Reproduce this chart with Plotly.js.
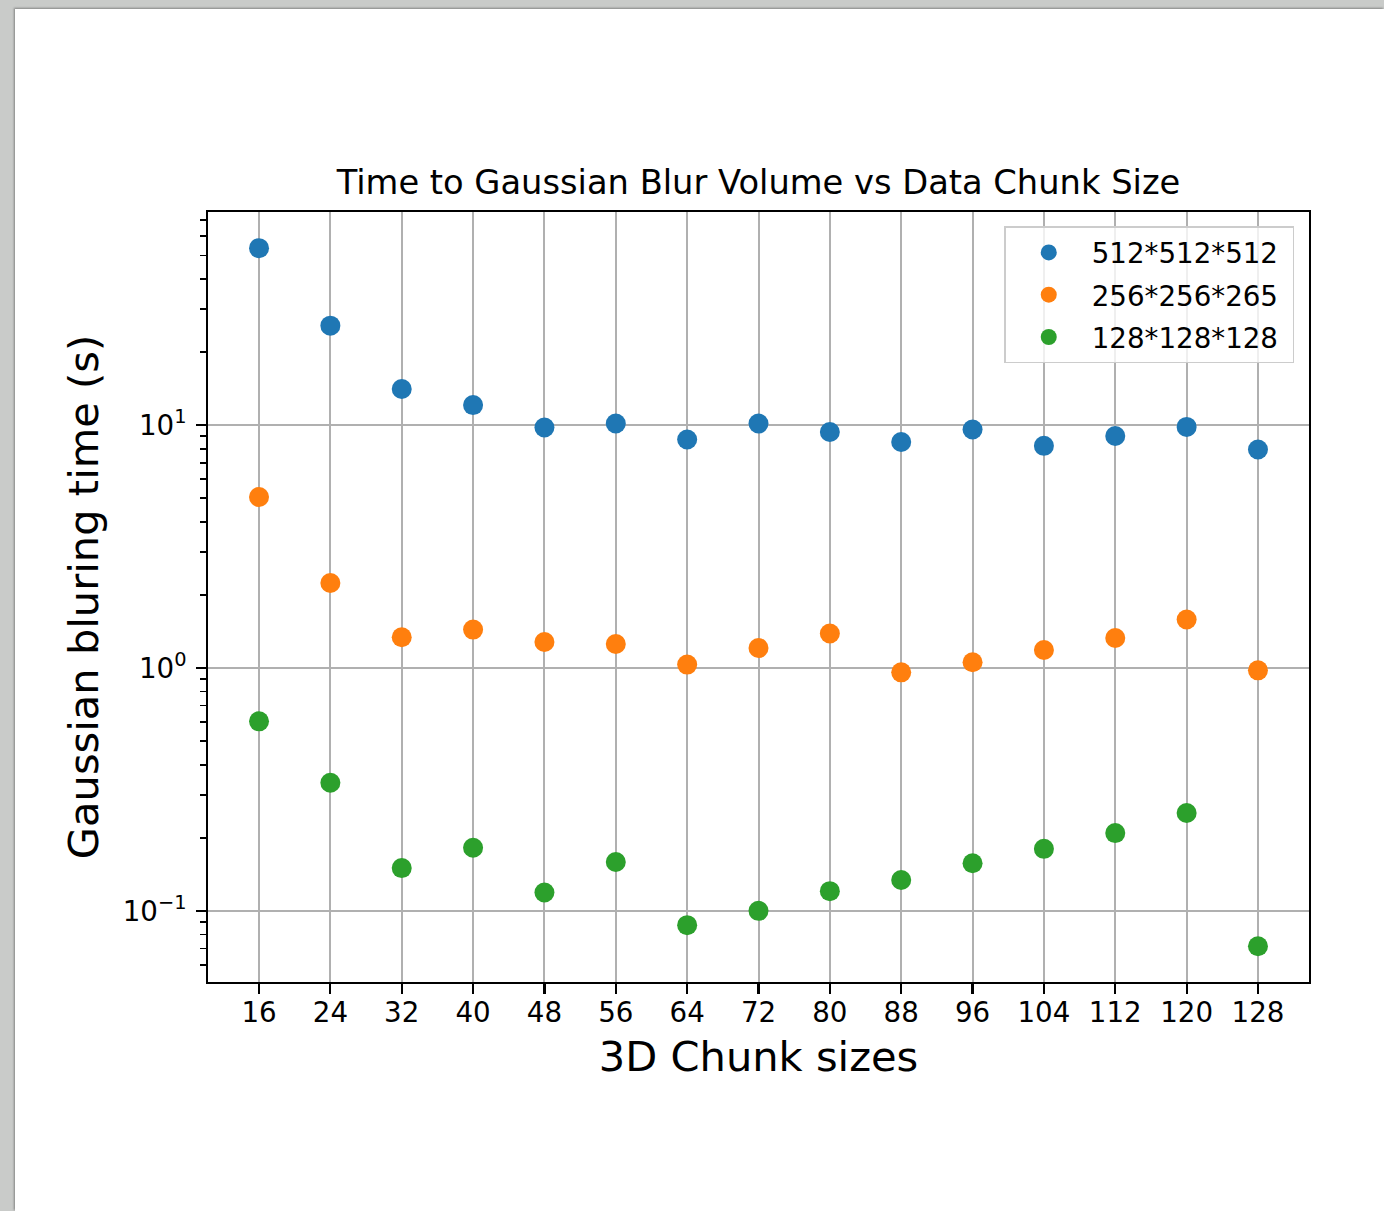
<!DOCTYPE html>
<html>
<head>
<meta charset="utf-8">
<script src="https://cdn.plot.ly/plotly-3.0.1.min.js"></script>
<style>
  html, body { margin: 0; padding: 0; background: #c9cbc9; width: 1384px; height: 1211px; overflow: hidden; }
  #chart { position: absolute; left: 15px; top: 9px; width: 1369px; height: 1202px; background: #fff; box-shadow: -1px -1px 2px rgba(0,0,0,0.35); }
</style>
</head>
<body>
<div id="chart"></div>
<script>
// Data
const chunkSizes = [16, 24, 32, 40, 48, 56, 64, 72, 80, 88, 96, 104, 112, 120, 128];
const seriesNames = ["512*512*512", "256*256*265", "128*128*128"];
const time512 = [53.6, 25.7, 14.1, 12.1, 9.78, 10.16, 8.73, 10.16, 9.38, 8.53, 9.60, 8.22, 9.03, 9.84, 7.94];
const time256 = [5.06, 2.24, 1.339, 1.44, 1.28, 1.256, 1.033, 1.209, 1.387, 0.960, 1.056, 1.187, 1.33, 1.584, 0.978];
const time128 = [0.603, 0.337, 0.150, 0.182, 0.119, 0.159, 0.0873, 0.100, 0.1205, 0.134, 0.157, 0.180, 0.209, 0.253, 0.0715];
const seriesColors = ["#1f77b4", "#ff7f0e", "#2ca02c"];
const yTickVals = [0.1, 1, 10];
const yTickText = ["10<sup>\u22121</sup>", "10<sup>0</sup>", "10<sup>1</sup>"];

const allSeries = [time512, time256, time128];
const FONT = "DejaVu Sans, Liberation Sans, sans-serif";

const traces = allSeries.map((vals, i) => ({
  type: "scatter",
  mode: "markers",
  x: chunkSizes,
  y: vals,
  name: seriesNames[i] + "\u00A0",
  legendgroup: "g" + i,
  marker: { color: seriesColors[i], size: 20, line: { width: 0 } },
  hoverinfo: "x+y"
}));

const layout = {
  width: 1369,
  height: 1202,
  paper_bgcolor: "#ffffff",
  plot_bgcolor: "#ffffff",
  margin: { l: 193, r: 75, t: 203, b: 229, pad: 0 },
  font: { family: FONT, color: "#000000", size: 27.7 },
  showlegend: true,
  title: {
    text: "Time to Gaussian Blur Volume vs Data Chunk Size",
    font: { family: FONT, size: 33.7, color: "#000000" },
    x: 0.5, xref: "paper", xanchor: "center",
    y: 0.8464, yref: "container", yanchor: "bottom"
  },
  xaxis: {
    type: "linear",
    range: [10.28, 133.72],
    tickmode: "array",
    tickvals: chunkSizes,
    ticktext: chunkSizes.map(String),
    ticks: "outside", ticklen: 9.7, tickwidth: 2.2, tickcolor: "#000",
    ticklabelstandoff: -5,
    tickfont: { family: FONT, size: 27.7, color: "#000" },
    showgrid: true, gridcolor: "#b0b0b0", gridwidth: 2,
    showline: true, linecolor: "#000", linewidth: 2.2, mirror: true,
    zeroline: false,
    automargin: false,
    title: { text: "3D Chunk sizes", font: { family: FONT, size: 41.6, color: "#000" }, standoff: 14 }
  },
  yaxis: {
    type: "log",
    range: [-1.293, 1.878],
    tickmode: "array",
    tickvals: yTickVals,
    ticktext: yTickText,
    ticks: "outside", ticklen: 9.7, tickwidth: 2.2, tickcolor: "#000",
    ticklabelstandoff: 4,
    tickfont: { family: FONT, size: 27.7, color: "#000" },
    minor: { tickmode: "linear", tick0: 0, dtick: "D1", ticks: "outside", ticklen: 5.5, tickwidth: 1.7, tickcolor: "#000", showgrid: false },
    showgrid: true, gridcolor: "#b0b0b0", gridwidth: 2,
    showline: true, linecolor: "#000", linewidth: 2.2, mirror: true,
    zeroline: false,
    automargin: false,
    title: { text: "Gaussian bluring time (s)", font: { family: FONT, size: 41.6, color: "#000" }, standoff: 11 }
  },
  legend: {
    x: 0.9866, xanchor: "right", xref: "paper",
    y: 0.9813, yanchor: "top", yref: "paper",
    bgcolor: "rgba(255,255,255,0.8)",
    bordercolor: "#cccccc", borderwidth: 1.5,
    font: { family: FONT, size: 27.7, color: "#000" },
    itemwidth: 76,
    tracegroupgap: 3.3
  }
};

Plotly.newPlot("chart", traces, layout, { displayModeBar: false, staticPlot: true });
</script>
</body>
</html>
